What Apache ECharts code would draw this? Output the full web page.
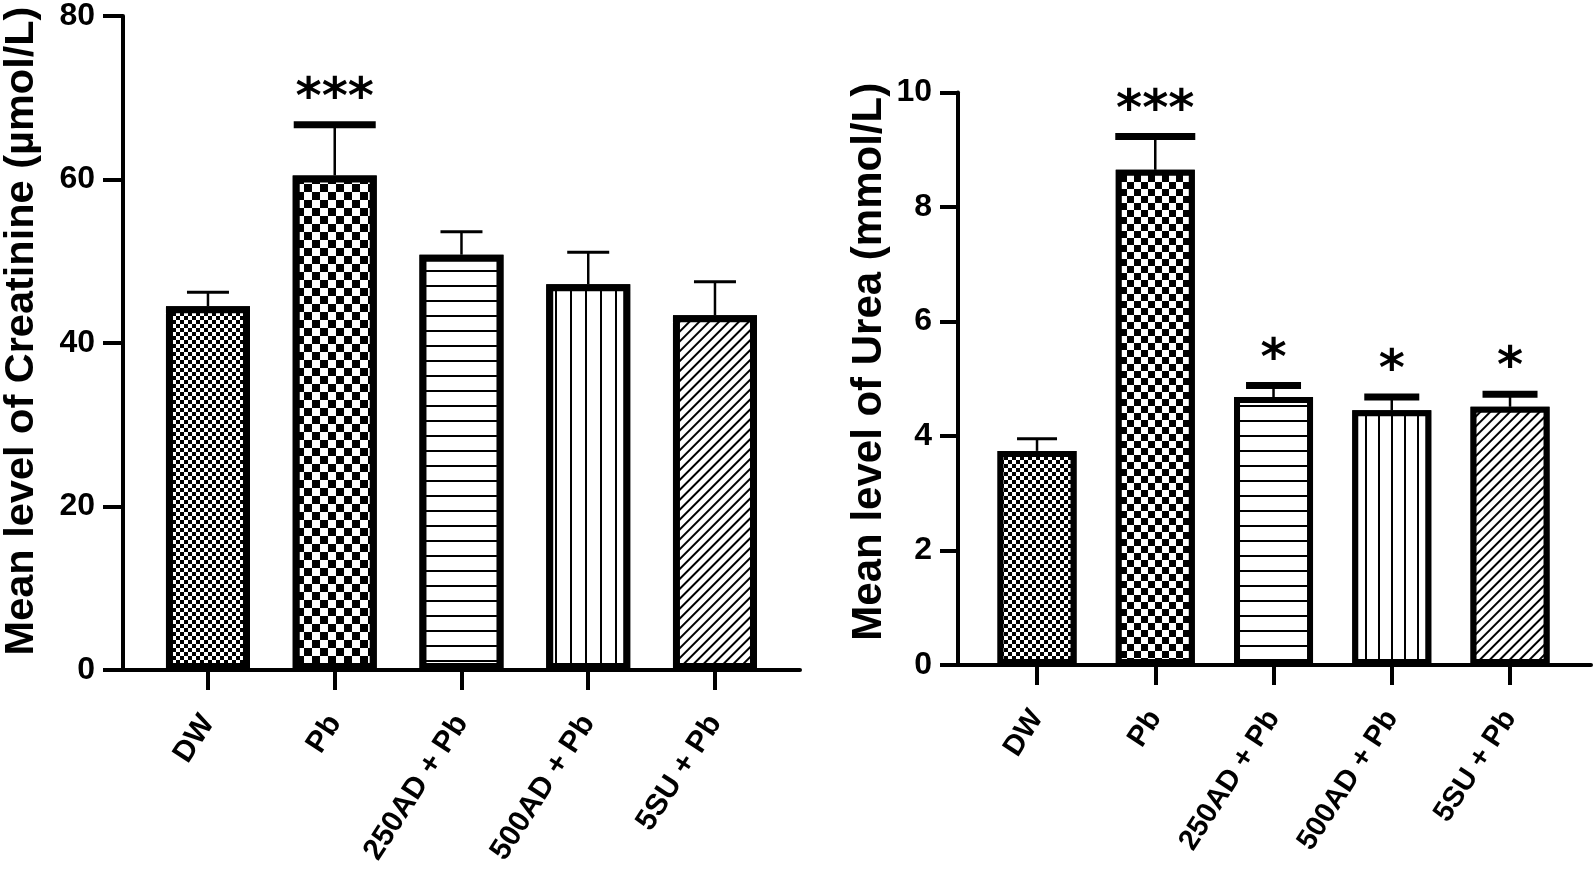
<!DOCTYPE html>
<html>
<head>
<meta charset="utf-8">
<script src="https://cdn.jsdelivr.net/npm/echarts@6/dist/echarts.min.js"></script>
<style>
html,body{margin:0;padding:0;background:#fff;}
#c{width:1594px;height:869px;}
</style>
</head>
<body>
<div id="c"></div>
<script>
// ---------- data ----------
const categories = ['DW', 'Pb', '250AD + Pb', '500AD + Pb', '5SU + Pb'];

const creatinineMean = [44.5, 60.5, 50.8, 47.2, 43.4];
const creatinineSEM  = [1.7, 6.2, 2.8, 3.9, 4.1];
const creatinineSig  = ['', '***', '', '', ''];
const creatinineTicks = { min: 0, max: 80, interval: 20 };

const ureaMean = [3.74, 8.65, 4.68, 4.45, 4.51];
const ureaSEM  = [0.21, 0.58, 0.20, 0.23, 0.22];
const ureaSig  = ['', '***', '*', '*', '*'];
const ureaTicks = { min: 0, max: 10, interval: 2 };

const leftTitle = 'Mean level of Creatinine (µmol/L)';
const rightTitle = 'Mean level of Urea (mmol/L)';

// ---------- styles ----------
const FONT = 'Liberation Sans, Arial, sans-serif';
function checker(s) { return { symbol: 'rect', color: '#000', backgroundColor: '#fff', dashArrayX: [[s, s], [0, s, s, 0]], dashArrayY: [s, 0] }; }
function hLines(w, g) { return { symbol: 'rect', color: '#000', backgroundColor: '#fff', dashArrayX: [1, 0], dashArrayY: [w, g] }; }
function vLines(w, g) { return { symbol: 'rect', color: '#000', backgroundColor: '#fff', dashArrayX: [w, g], dashArrayY: [1, 0] }; }
function diag(w, g) { return { symbol: 'rect', color: '#000', backgroundColor: '#fff', dashArrayX: [1, 0], dashArrayY: [w, g], rotation: -Math.PI / 4 }; }

const leftDecals  = [checker(4), checker(8), hLines(2, 13), vLines(2, 13), diag(2, 5)];
const rightDecals = [checker(4), checker(7), hLines(2, 13), vLines(2, 11), diag(2, 5)];

const chart = echarts.init(document.getElementById('c'), null, { renderer: 'canvas' });

function barSeries(axisIdx, means, decals, barW, borderW) {
  return {
    type: 'bar', xAxisIndex: axisIdx, yAxisIndex: axisIdx,
    barWidth: barW,
    silent: true,
    data: means.map((v, i) => ({
      value: v,
      itemStyle: { color: '#fff', borderColor: '#000', borderWidth: borderW, decal: decals[i] }
    })),
    z: 2
  };
}

function errSeries(axisIdx, means, sems, sigs, opts) {
  return {
    type: 'custom', xAxisIndex: axisIdx, yAxisIndex: axisIdx,
    silent: true, z: 5,
    data: means.map((m, i) => [i, m, m + sems[i]]),
    renderItem: function (params, api) {
      const i = api.value(0);
      const base = api.coord([i, api.value(1)]);
      const top = api.coord([i, api.value(2)]);
      const sig = sigs[params.dataIndex];
      const capW = sig ? (sig.length >= 3 ? opts.capWide : opts.capSig) : opts.capNormal;
      const capT = sig ? opts.capThick : opts.capThin;
      const children = [
        { type: 'line', shape: { x1: base[0], y1: base[1], x2: top[0], y2: top[1] },
          style: { stroke: '#000', lineWidth: opts.stem } },
        { type: 'line', shape: { x1: top[0] - capW / 2, y1: top[1], x2: top[0] + capW / 2, y2: top[1] },
          style: { stroke: '#000', lineWidth: capT } }
      ];
      if (sig) {
        children.push({ type: 'text', style: {
          text: sig, x: top[0], y: top[1] - opts.starGap,
          align: 'center', verticalAlign: 'middle',
          font: 'bold ' + opts.starSize + 'px DejaVu Sans', fill: '#000' } });
      }
      return { type: 'group', children: children };
    }
  };
}

const axisLineStyle = { show: true, lineStyle: { color: '#000', width: 4 } };

const option = {
  animation: false,
  backgroundColor: '#fff',
  grid: [
    { left: 123, top: 16, width: 677, height: 654, outerBoundsMode: 'none' },
    { left: 144.6, top: 16, width: 633.75, height: 654, outerBoundsMode: 'none' },
    { left: 958, top: 92.5, width: 633, height: 572.5, outerBoundsMode: 'none' },
    { left: 977.9, top: 92.5, width: 591.25, height: 572.5, outerBoundsMode: 'none' }
  ],
  xAxis: [
    { gridIndex: 0, type: 'value', min: 0, max: 1, axisLine: axisLineStyle, axisTick: { show: false }, axisLabel: { show: false }, splitLine: { show: false } },
    { gridIndex: 1, type: 'category', data: categories, axisLine: { show: false },
      axisTick: { show: true, alignWithLabel: true, length: 20, lineStyle: { color: '#000', width: 4 } },
      axisLabel: { rotate: 57, margin: 48, interval: 0, color: '#000', fontSize: 30, fontWeight: 'bold', fontFamily: FONT } },
    { gridIndex: 2, type: 'value', min: 0, max: 1, axisLine: axisLineStyle, axisTick: { show: false }, axisLabel: { show: false }, splitLine: { show: false } },
    { gridIndex: 3, type: 'category', data: categories, axisLine: { show: false },
      axisTick: { show: true, alignWithLabel: true, length: 20, lineStyle: { color: '#000', width: 4 } },
      axisLabel: { rotate: 57, margin: 48, interval: 0, color: '#000', fontSize: 29, fontWeight: 'bold', fontFamily: FONT } }
  ],
  yAxis: [
    { gridIndex: 0, type: 'value', min: creatinineTicks.min, max: creatinineTicks.max, interval: creatinineTicks.interval,
      axisLine: axisLineStyle, axisTick: { show: true, length: 20, lineStyle: { color: '#000', width: 4 } },
      axisLabel: { color: '#000', fontSize: 32, fontWeight: 'bold', fontFamily: FONT, margin: 28 },
      splitLine: { show: false },
      name: leftTitle, nameLocation: 'middle', nameRotate: 90, nameGap: 80,
      nameTextStyle: { color: '#000', fontSize: 41.5, fontWeight: 'bold', fontFamily: FONT, padding: [0, 0, 0, 24] } },
    { gridIndex: 1, type: 'value', min: creatinineTicks.min, max: creatinineTicks.max, show: false },
    { gridIndex: 2, type: 'value', min: ureaTicks.min, max: ureaTicks.max, interval: ureaTicks.interval,
      axisLine: axisLineStyle, axisTick: { show: true, length: 18, lineStyle: { color: '#000', width: 4 } },
      axisLabel: { color: '#000', fontSize: 32, fontWeight: 'bold', fontFamily: FONT, margin: 26 },
      splitLine: { show: false },
      name: rightTitle, nameLocation: 'middle', nameRotate: 90, nameGap: 68,
      nameTextStyle: { color: '#000', fontSize: 42, fontWeight: 'bold', fontFamily: FONT, padding: [0, 0, 0, 34] } },
    { gridIndex: 3, type: 'value', min: ureaTicks.min, max: ureaTicks.max, show: false }
  ],
  series: [
    barSeries(1, creatinineMean, leftDecals, 84, 7),
    errSeries(1, creatinineMean, creatinineSEM, creatinineSig,
      { stem: 2.5, capNormal: 42, capSig: 55, capWide: 82, capThin: 3, capThick: 7, starGap: 25, starSize: 50 }),
    barSeries(3, ureaMean, rightDecals, 79, 6),
    errSeries(3, ureaMean, ureaSEM, ureaSig,
      { stem: 2.5, capNormal: 40, capSig: 55, capWide: 80, capThin: 3, capThick: 7, starGap: 25, starSize: 50 })
  ]
};
chart.setOption(option);
</script>
</body>
</html>
